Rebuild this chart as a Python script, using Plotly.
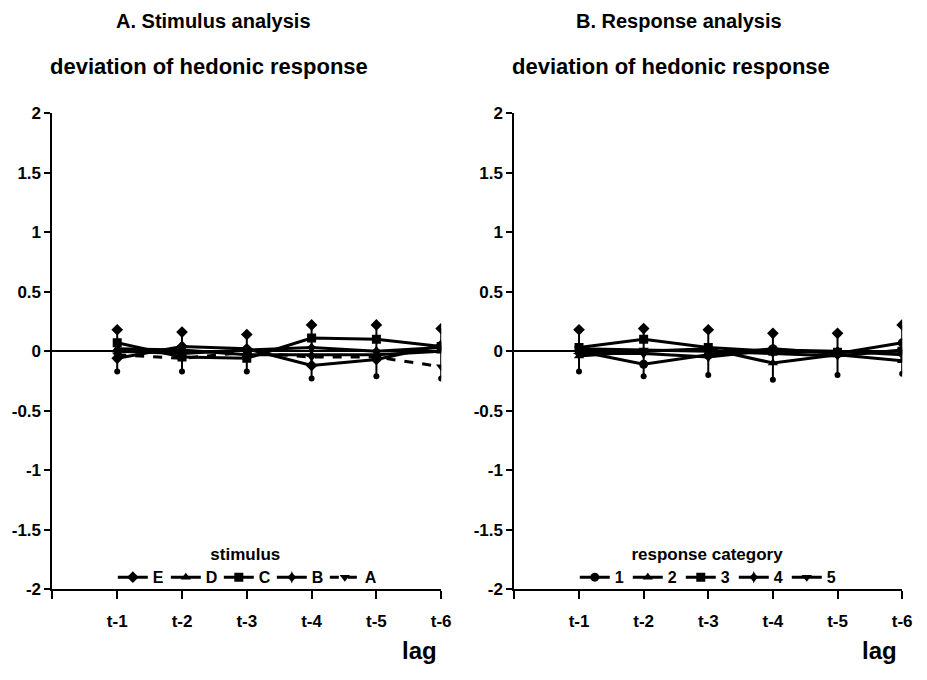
import plotly.graph_objects as go

lags = [1, 2, 3, 4, 5, 6]
lag_labels = ["", "t-1", "t-2", "t-3", "t-4", "t-5", "t-6"]
lag_ticks = [0, 1, 2, 3, 4, 5, 6]
y_ticks = [2, 1.5, 1, 0.5, 0, -0.5, -1, -1.5, -2]
y_labels = ["2", "1.5", "1", "0.5", "0", "-0.5", "-1", "-1.5", "-2"]

# Panel A: stimulus analysis
stim_names = ["E", "D", "C", "B", "A"]
stim_E = [-0.06, 0.04, 0.02, -0.12, -0.07, 0.05]
stim_D = [0.02, 0.01, -0.03, -0.03, -0.03, 0.00]
stim_C = [0.07, -0.05, -0.06, 0.11, 0.10, 0.04]
stim_B = [0.00, -0.02, 0.01, 0.03, 0.00, 0.03]
stim_A = [-0.03, -0.06, -0.01, -0.05, -0.05, -0.13]
stim_upper = [0.18, 0.16, 0.14, 0.22, 0.22, 0.19]
stim_lower = [-0.17, -0.17, -0.17, -0.23, -0.21, -0.23]

# Panel B: response analysis
resp_names = ["1", "2", "3", "4", "5"]
resp_1 = [0.00, -0.11, -0.03, 0.02, -0.02, 0.07]
resp_2 = [-0.04, 0.00, 0.02, -0.10, -0.03, -0.08]
resp_3 = [0.03, 0.10, 0.03, 0.00, -0.01, 0.00]
resp_4 = [-0.02, -0.02, -0.05, 0.01, 0.00, -0.03]
resp_5 = [0.02, 0.01, 0.00, -0.02, -0.04, 0.01]
resp_upper = [0.18, 0.19, 0.18, 0.15, 0.15, 0.22]
resp_lower = [-0.17, -0.21, -0.20, -0.24, -0.20, -0.19]

FONT = "Liberation Sans, Arial, sans-serif"
BLACK = "black"

fig = go.Figure()


def add_panel(series, names, symbols, dashes, upper, lower, xa, ya, legend):
    # error bars with caps
    fig.add_trace(go.Scatter(
        x=lags, y=upper, mode="markers", xaxis=xa, yaxis=ya, showlegend=False,
        marker=dict(symbol="diamond", size=9, color=BLACK),
        error_y=dict(type="data", symmetric=False,
                     array=[0] * len(upper),
                     arrayminus=[u - l for u, l in zip(upper, lower)],
                     color=BLACK, thickness=2, width=0),
        hoverinfo="skip"))
    fig.add_trace(go.Scatter(
        x=lags, y=lower, mode="markers", xaxis=xa, yaxis=ya, showlegend=False,
        marker=dict(symbol="circle", size=6, color=BLACK), hoverinfo="skip"))
    for s, n, sym, d in zip(series, names, symbols, dashes):
        fig.add_trace(go.Scatter(
            x=lags, y=s, name=n, mode="lines+markers", xaxis=xa, yaxis=ya,
            legend=legend,
            line=dict(color=BLACK, width=3, dash=d),
            marker=dict(symbol=sym, size=9, color=BLACK)))


add_panel([stim_E, stim_D, stim_C, stim_B, stim_A], stim_names,
          ["diamond", "triangle-up", "square", "star-diamond", "triangle-down"],
          ["solid", "solid", "solid", "solid", "dash"],
          stim_upper, stim_lower, "x", "y", "legend")
add_panel([resp_1, resp_2, resp_3, resp_4, resp_5], resp_names,
          ["circle", "triangle-up", "square", "star-diamond", "triangle-down"],
          ["solid", "solid", "solid", "solid", "solid"],
          resp_upper, resp_lower, "x2", "y2", "legend2")

W, H = 927, 680
xdomA = [53 / W, 446 / W]
xdomB = [520 / W, 912 / W]
ydom = [1 - 597 / H, 1 - 107 / H]

tickfont = dict(family=FONT, size=17, color=BLACK, weight="bold")
xaxis_common = dict(range=[0, 6], tickmode="array", tickvals=lag_ticks,
                    ticktext=lag_labels, ticks="outside", ticklen=8,
                    tickwidth=2, tickcolor=BLACK, showline=True,
                    linecolor=BLACK, linewidth=2, showgrid=False,
                    zeroline=False, ticklabelstandoff=7,
                    tickfont=tickfont)
yaxis_common = dict(range=[-2, 2], tickmode="array", tickvals=y_ticks,
                    ticktext=y_labels, ticks="outside", ticklen=6,
                    tickwidth=2, tickcolor=BLACK, showline=True,
                    linecolor=BLACK, linewidth=2, showgrid=False,
                    zeroline=True, zerolinecolor=BLACK, zerolinewidth=2,
                    tickfont=tickfont)

legend_common = dict(orientation="h", xanchor="center", yanchor="bottom",
                     bgcolor="rgba(0,0,0,0)", itemwidth=30,
                     entrywidth=8, entrywidthmode="pixels",
                     font=dict(family=FONT, size=16, color=BLACK,
                               weight="bold"),
                     tracegroupgap=0)
legtitle_font = dict(family=FONT, size=17, color=BLACK, weight="bold")

fig.update_layout(
    width=W, height=H,
    margin=dict(l=0, r=0, t=0, b=0),
    paper_bgcolor="white", plot_bgcolor="white",
    showlegend=True,
    xaxis=dict(domain=xdomA, anchor="y", **xaxis_common),
    yaxis=dict(domain=ydom, anchor="x", **yaxis_common),
    xaxis2=dict(domain=xdomB, anchor="y2", **xaxis_common),
    yaxis2=dict(domain=ydom, anchor="x2", **yaxis_common),
    legend=dict(x=(53 + 195) / W, y=1 - 602 / H,
                title=dict(text="stimulus", side="top center",
                           font=legtitle_font),
                **legend_common),
    legend2=dict(x=(520 + 195) / W, y=1 - 602 / H,
                 title=dict(text="response category", side="top center",
                            font=legtitle_font),
                 **legend_common),
)

ann = [
    ("A. Stimulus analysis", 216, 12, 20),
    ("deviation of hedonic response", 211, 59, 22),
    ("lag", 424, 660, 24),
    ("B. Response analysis", 686, 12, 20),
    ("deviation of hedonic response", 678, 59, 22),
    ("lag", 889, 660, 24),
]
for text, px, py, sz in ann:
    fig.add_annotation(text=text, x=px / W, y=1 - py / H, xref="paper",
                       yref="paper", xanchor="center", yanchor="middle",
                       showarrow=False,
                       font=dict(family=FONT, size=sz, color=BLACK,
                                 weight="bold"))

fig.write_html("out.html")
